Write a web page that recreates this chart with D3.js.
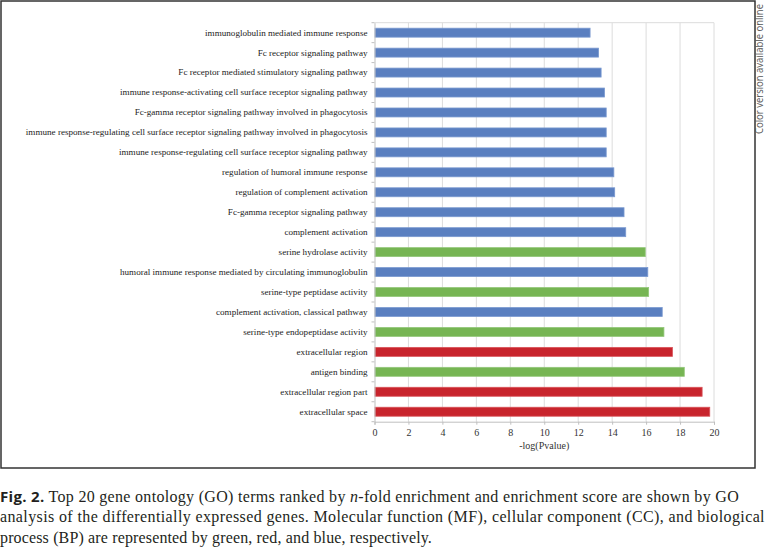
<!DOCTYPE html>
<html>
<head>
<meta charset="utf-8">
<script src="https://cdn.jsdelivr.net/npm/d3@7"></script>
<style>
  html, body { margin: 0; padding: 0; background: #fff; }
  svg { display: block; }
  .serif { font-family: "Liberation Serif", "Times New Roman", "DejaVu Serif", serif; }
  .sans { font-family: "Open Sans", "Liberation Sans", sans-serif; }
</style>
</head>
<body>
<svg id="chart" width="767" height="547"></svg>
<script>
// ---- data ----
const categories = [
  "immunoglobulin mediated immune response",
  "Fc receptor signaling pathway",
  "Fc receptor mediated stimulatory signaling pathway",
  "immune response-activating cell surface receptor signaling pathway",
  "Fc-gamma receptor signaling pathway involved in phagocytosis",
  "immune response-regulating cell surface receptor signaling pathway involved in phagocytosis",
  "immune response-regulating cell surface receptor signaling pathway",
  "regulation of humoral immune response",
  "regulation of complement activation",
  "Fc-gamma receptor signaling pathway",
  "complement activation",
  "serine hydrolase activity",
  "humoral immune response mediated by circulating immunoglobulin",
  "serine-type peptidase activity",
  "complement activation, classical pathway",
  "serine-type endopeptidase activity",
  "extracellular region",
  "antigen binding",
  "extracellular region part",
  "extracellular space"
];
const values = [12.7, 13.2, 13.35, 13.55, 13.65, 13.65, 13.65, 14.1, 14.15, 14.7,
                14.8, 15.95, 16.1, 16.15, 16.95, 17.05, 17.55, 18.25, 19.3, 19.75];
const ontology = ["BP","BP","BP","BP","BP","BP","BP","BP","BP","BP",
                  "BP","MF","BP","MF","BP","MF","CC","MF","CC","CC"];
const xTicks = [0, 2, 4, 6, 8, 10, 12, 14, 16, 18, 20];
const xTitle = "-log(Pvalue)";
const sideNote = "Color version available online";
const captionLines = [
  [{t:"Fig. 2.", b:true}, {t:" Top 20 gene ontology (GO) terms ranked by "}, {t:"n", i:true}, {t:"-fold enrichment and enrichment score are shown by GO"}],
  [{t:"analysis of the differentially expressed genes. Molecular function (MF), cellular component (CC), and biological"}],
  [{t:"process (BP) are represented by green, red, and blue, respectively."}]
];

const fillColor = {BP: "#5a7fc0", MF: "#76b553", CC: "#c8242c"};
const strokeColor = {BP: "#7b9ad0", MF: "#93c77a", CC: "#d9545a"};

const rows = categories.map((c, i) => ({cat: c, val: values[i], ont: ontology[i]}));

const svg = d3.select("#chart");
svg.append("rect").attr("width", 767).attr("height", 547).attr("fill", "#fff");

// frame
svg.append("rect")
  .attr("x", 1).attr("y", 1).attr("width", 754).attr("height", 467)
  .attr("fill", "none").attr("stroke", "#333").attr("stroke-width", 1.5);

const x = d3.scaleLinear().domain([0, 20]).range([374.5, 714]);
const y = d3.scaleBand().domain(categories).range([22.7, 421.7]).paddingInner(0.55).paddingOuter(0.275);

const g = svg.append("g");

// gridlines
g.selectAll("line.grid").data(xTicks.slice(1)).join("line")
  .attr("class", "grid")
  .attr("x1", d => x(d)).attr("x2", d => x(d))
  .attr("y1", 22.7).attr("y2", 421.7)
  .attr("stroke", "#dcdcdc").attr("stroke-width", 1);
// top border of plot
g.append("line")
  .attr("x1", x(0)).attr("x2", x(20)).attr("y1", 22.7).attr("y2", 22.7)
  .attr("stroke", "#dcdcdc").attr("stroke-width", 1);

// bars
g.selectAll("rect.bar").data(rows).join("rect")
  .attr("class", "bar")
  .attr("x", x(0) + 0.5)
  .attr("y", d => y(d.cat))
  .attr("width", d => x(d.val) - x(0) - 0.5)
  .attr("height", y.bandwidth())
  .attr("fill", d => fillColor[d.ont])
  .attr("stroke", d => strokeColor[d.ont])
  .attr("stroke-width", 0.8);

// x axis
const xAxis = d3.axisBottom(x).tickValues(xTicks).tickSize(3).tickPadding(4).tickFormat(d3.format("d"));
const xa = svg.append("g").attr("transform", "translate(0,421.7)").call(xAxis)
  .attr("font-family", null);
xa.select(".domain").attr("stroke", "#bfbfbf");
xa.selectAll(".tick line").attr("stroke", "#bfbfbf");
xa.selectAll(".tick text")
  .attr("class", "serif")
  .attr("font-size", 10).attr("fill", "#333");

// y axis
const yAxis = d3.axisLeft(y).tickSize(0).tickPadding(7);
const ya = svg.append("g").attr("transform", `translate(${x(0)},0)`).call(yAxis)
  .attr("font-family", null);
ya.select(".domain").attr("stroke", "#bfbfbf");
ya.selectAll(".tick text")
  .attr("class", "serif")
  .attr("font-size", 9.1).attr("fill", "#222");
// category boundary ticks
svg.append("g").selectAll("line").data(d3.range(categories.length + 1)).join("line")
  .attr("x1", x(0) - 3).attr("x2", x(0))
  .attr("y1", i => 22.7 + i * 399 / categories.length)
  .attr("y2", i => 22.7 + i * 399 / categories.length)
  .attr("stroke", "#bfbfbf");

// x title
svg.append("text")
  .attr("class", "serif")
  .attr("x", (x(0) + x(20)) / 2).attr("y", 449)
  .attr("text-anchor", "middle")
  .attr("font-size", 10).attr("fill", "#333")
  .text(xTitle);

// side note
svg.append("text")
  .attr("class", "sans")
  .attr("transform", "translate(762.5,134) rotate(-90)")
  .attr("font-size", 10).attr("fill", "#555")
  .attr("textLength", 130).attr("lengthAdjust", "spacingAndGlyphs")
  .text(sideNote);

// caption
const capY = [501.5, 522, 542.5];
const capTarget = [739, 765, 432];
const capSize = 16;
captionLines.forEach((line, li) => {
  const t = svg.append("text")
    .attr("class", "serif")
    .attr("x", 0).attr("y", capY[li])
    .attr("font-size", capSize).attr("fill", "#231f20");
  line.forEach(s => {
    const ts = t.append("tspan").text(s.t);
    if (s.b) ts.attr("class", "sans").attr("font-weight", "bold").attr("font-size", capSize - 1);
    if (s.i) ts.attr("font-style", "italic");
  });
  // fit line width to the reference by adjusting letter spacing
  const w = t.node().getComputedTextLength();
  const n = line.reduce((a, s) => a + s.t.length, 0);
  t.attr("letter-spacing", ((capTarget[li] - w) / n).toFixed(3));
});
</script>
</body>
</html>
